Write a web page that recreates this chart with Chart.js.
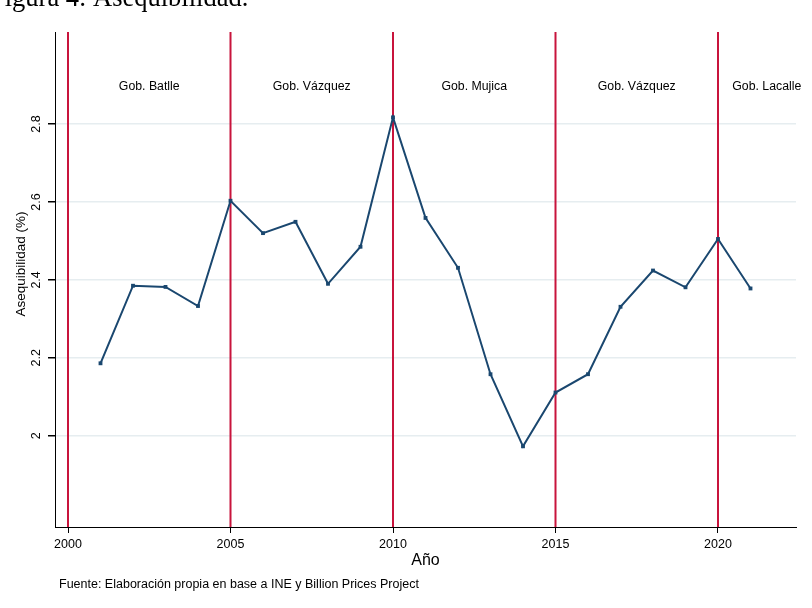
<!DOCTYPE html>
<html>
<head>
<meta charset="utf-8">
<script src="https://cdn.jsdelivr.net/npm/chart.js@4.4.1/dist/chart.umd.min.js"></script>
<style>
  html, body { margin: 0; padding: 0; background: #fff; }
  #wrap { width: 812px; height: 608px; }
</style>
</head>
<body>
<div id="wrap"><canvas id="chart" width="812" height="608"></canvas></div>
<script>
// data
const years = [2001, 2002, 2003, 2004, 2005, 2006, 2007, 2008, 2009, 2010, 2011,
               2012, 2013, 2014, 2015, 2016, 2017, 2018, 2019, 2020, 2021];
const affordability = [2.186, 2.385, 2.382, 2.333, 2.603, 2.520, 2.549, 2.390, 2.485, 2.817, 2.559,
                       2.431, 2.158, 1.973, 2.111, 2.158, 2.331, 2.424, 2.381, 2.505, 2.378];

const govStarts = [2000, 2005, 2010, 2015, 2020];
const govNames = ['Gob. Batlle', 'Gob. Vázquez', 'Gob. Mujica', 'Gob. Vázquez', 'Gob. Lacalle'];
const govLabelYears = [2002.5, 2007.5, 2012.5, 2017.5, 2021.5];
const govLabelLevel = 2.897;

const xTicks = [2000, 2005, 2010, 2015, 2020];
const yTicks = [2.0, 2.2, 2.4, 2.6, 2.8];
const xMin = 1999.6, xMax = 2022.4;
const yMin = 1.766, yMax = 3.036;

const SANS = '"Liberation Sans", Arial, Helvetica, sans-serif';
const NAVY = '#1a476f';
const RED = '#c8143c';

const datasets = [{
  data: years.map((yr, i) => ({ x: yr, y: affordability[i] })),
  borderColor: NAVY,
  backgroundColor: NAVY,
  borderWidth: 2,
  pointStyle: 'rect',
  pointRadius: 1.3,
  tension: 0
}];
govStarts.forEach(yr => {
  datasets.push({
    data: [{ x: yr, y: yMin }, { x: yr, y: yMax }],
    borderColor: RED,
    borderWidth: 2,
    pointRadius: 0
  });
});

const extras = {
  id: 'extras',
  afterDraw(chart) {
    const { ctx, chartArea, scales: { x, y } } = chart;
    ctx.save();
    ctx.fillStyle = '#000';

    // y tick labels, turned like Stata draws them
    ctx.font = '12.5px ' + SANS;
    ctx.textAlign = 'center';
    ctx.textBaseline = 'middle';
    y.ticks.forEach(t => {
      ctx.save();
      ctx.translate(y.right - 18, y.getPixelForValue(t.value));
      ctx.rotate(-Math.PI / 2);
      ctx.fillText(String(t.value), 0, 0);
      ctx.restore();
    });

    // y title
    ctx.save();
    ctx.font = '13.5px ' + SANS;
    ctx.translate(21, 264);
    ctx.rotate(-Math.PI / 2);
    ctx.fillText('Asequibilidad (%)', 0, 0);
    ctx.restore();

    // x title
    ctx.font = '16px ' + SANS;
    ctx.fillText('Año', (chartArea.left + chartArea.right) / 2, 561);

    // government labels
    ctx.font = '12.3px ' + SANS;
    govNames.forEach((name, i) => {
      ctx.fillText(name, x.getPixelForValue(govLabelYears[i]), y.getPixelForValue(govLabelLevel));
    });

    // source note
    ctx.textAlign = 'left';
    ctx.font = '12.5px ' + SANS;
    ctx.fillText('Fuente: Elaboración propia en base a INE y Billion Prices Project', 59, 585);

    // caption cut at the top of the page
    ctx.textBaseline = 'alphabetic';
    ctx.font = '26.5px "Liberation Serif", "Times New Roman", serif';
    ctx.fillText('Figura 4: Asequibilidad.', -10, 6);
    ctx.restore();
  }
};

new Chart(document.getElementById('chart'), {
  type: 'line',
  data: { datasets },
  plugins: [extras],
  options: {
    responsive: false,
    animation: false,
    layout: { padding: { top: 32, right: 16, left: 0, bottom: 0 } },
    plugins: {
      legend: { display: false },
      tooltip: { enabled: false }
    },
    scales: {
      x: {
        type: 'linear',
        min: xMin,
        max: xMax,
        afterBuildTicks: s => { s.ticks = xTicks.map(v => ({ value: v })); },
        afterFit: s => { s.height = 81; },
        ticks: {
          color: '#000',
          font: { size: 12.5, family: SANS },
          padding: 4,
          maxRotation: 0,
          callback: v => String(v)
        },
        grid: { drawOnChartArea: false, tickLength: 6, tickColor: '#000' },
        border: { color: '#000', width: 1 }
      },
      y: {
        type: 'linear',
        min: yMin,
        max: yMax,
        afterBuildTicks: s => { s.ticks = yTicks.map(v => ({ value: v })); },
        afterFit: s => { s.width = 55; },
        ticks: { display: false },
        grid: { color: '#e6edf0', lineWidth: 1.5, tickLength: 7, tickColor: '#000' },
        border: { color: '#000', width: 1 }
      }
    }
  }
});
</script>
</body>
</html>
